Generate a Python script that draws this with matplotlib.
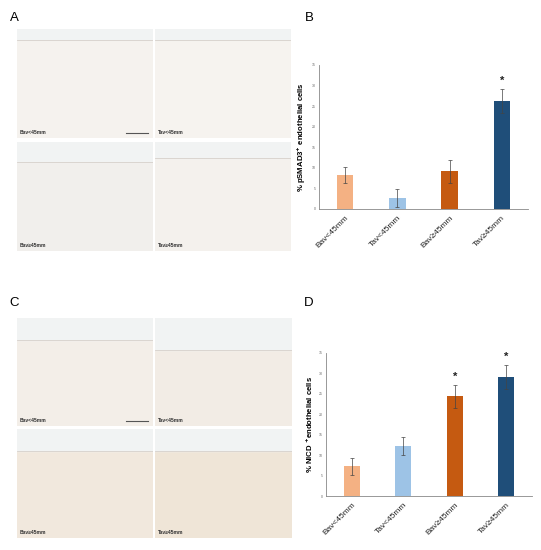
import matplotlib
matplotlib.use("Agg")
from matplotlib import pyplot as plt
import numpy as np

plt.rcParams['font.family'] = ['Liberation Sans', 'DejaVu Sans']

groups = ["Bav<45mm", "Tav<45mm", "Bav≥45mm", "Tav≥45mm"]
colors = ["#F4B183", "#9DC3E6", "#C55A11", "#1F4E79"]

psmad3_mean = [8.2, 2.7, 9.2, 26.2]
psmad3_err = [2.0, 2.2, 2.8, 2.9]
psmad3_star = [False, False, False, True]

nicd_mean = [7.3, 12.3, 24.4, 29.2]
nicd_err = [2.1, 2.2, 2.75, 2.9]
nicd_star = [False, False, True, True]

W, H = 541, 550
fig = plt.figure(figsize=(W / 100, H / 100), dpi=100)


def px_axes(x0, y0, x1, y1):
    return fig.add_axes([x0 / W, 1 - y1 / H, (x1 - x0) / W, (y1 - y0) / H])


def micrograph(x0, y0, x1, y1, label, tissue, edge, scalebar=False):
    ax = px_axes(x0, y0, x1, y1)
    ax.set_xlim(0, 1)
    ax.set_ylim(0, 1)
    ax.axis("off")
    ax.add_patch(plt.Rectangle((0, 0), 1, 1, color=tissue, zorder=0))
    ax.add_patch(plt.Rectangle((0, edge), 1, 1 - edge, color="#f1f3f3", zorder=1))
    ax.plot([0, 1], [edge, edge], color="#d6d0ca", lw=0.6, zorder=2)
    ax.text(0.02, 0.03, label, fontsize=3.6, fontweight="bold", color="#333333",
            va="bottom", ha="left")
    if scalebar:
        ax.plot([0.8, 0.96], [0.05, 0.05], color="#555555", lw=0.8)


micrograph(17, 29, 153, 138, "Bav<45mm", "#f5f2ee", 0.9, scalebar=True)
micrograph(155, 29, 291, 138, "Tav<45mm", "#f6f3ef", 0.9)
micrograph(17, 142, 153, 251, "Bav≥45mm", "#f1efec", 0.82)
micrograph(155, 142, 291, 251, "Tav≥45mm", "#f4f1ed", 0.85)

micrograph(17, 318, 153, 426, "Bav<45mm", "#f3eee8", 0.8, scalebar=True)
micrograph(155, 318, 292, 426, "Tav<45mm", "#f2ece5", 0.7)
micrograph(17, 429, 153, 538, "Bav≥45mm", "#f1e8dd", 0.8)
micrograph(155, 429, 292, 538, "Tav≥45mm", "#efe5d7", 0.8)


def bar_chart(ax, means, errs, stars, ylabel):
    x = np.arange(len(groups))
    ax.bar(x, means, width=0.32, color=colors, zorder=2)
    ax.errorbar(x, means, yerr=errs, fmt="none", ecolor="#444444",
                elinewidth=0.5, capsize=1.2, capthick=0.5, zorder=3)
    for xi, m, e, s in zip(x, means, errs, stars):
        if s:
            ax.text(xi, m + e + 0.8, "*", ha="center", va="bottom",
                    fontsize=8, fontweight="bold", color="#222222")
    ax.set_xlim(-0.5, 3.5)
    ax.set_ylim(0, 35)
    ax.set_yticks(np.arange(0, 36, 5))
    ax.tick_params(axis="y", labelsize=2.5, length=0, pad=2, colors="#666666")
    ax.set_xticks(x)
    ax.set_xticklabels(groups, rotation=45, ha="right", rotation_mode="anchor",
                       fontsize=6, color="#222222")
    ax.tick_params(axis="x", length=0, pad=4)
    for side in ["top", "right"]:
        ax.spines[side].set_visible(False)
    for side in ["left", "bottom"]:
        ax.spines[side].set_color("#888888")
        ax.spines[side].set_linewidth(0.6)
    ax.set_ylabel(ylabel, fontsize=5.6, fontweight="bold", labelpad=3)


ax_b = px_axes(319, 65, 528, 209)
bar_chart(ax_b, psmad3_mean, psmad3_err, psmad3_star,
          r"% pSMAD3$^{\mathbf{+}}$ endothelial cells")

ax_d = px_axes(326, 353, 532, 496)
bar_chart(ax_d, nicd_mean, nicd_err, nicd_star,
          r"% NICD $^{\mathbf{+}}$endothelial cells")

for letter, (lx, ly) in zip("ABCD", [(14, 18), (309, 18), (14, 303), (309, 303)]):
    fig.text(lx / W, 1 - ly / H, letter, fontsize=9.5, ha="center", va="center")

fig.savefig("out.png", dpi=100)
